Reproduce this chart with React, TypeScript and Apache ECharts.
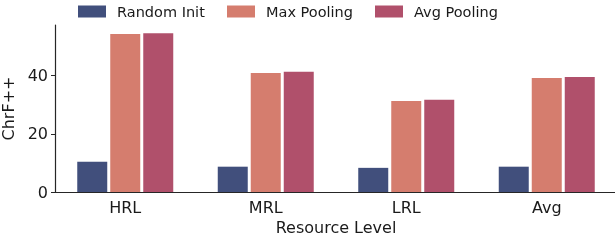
import React, { useEffect, useRef } from "react";
import * as echarts from "echarts";

const categories = ["HRL", "MRL", "LRL", "Avg"];
const seriesNames = ["Random Init", "Max Pooling", "Avg Pooling"];
const randomInit = [10.4, 8.7, 8.3, 8.7];
const maxPooling = [54.3, 40.9, 31.3, 39.2];
const avgPooling = [54.6, 41.3, 31.7, 39.5];
const yTicks = [0, 20, 40];
const colors = ["#414f7c", "#d57d6e", "#b0506b"];

const FONT = "DejaVu Sans";

export default function App() {
  const ref = useRef<HTMLDivElement>(null);
  useEffect(() => {
    if (!ref.current) return;
    const chart = echarts.init(ref.current, undefined, { renderer: "svg" });
    const values = [randomInit, maxPooling, avgPooling];
    const legendLefts = [78, 227, 375];
    chart.setOption({
      animation: false,
      textStyle: { fontFamily: FONT },
      legend: seriesNames.map((n, i) => ({
        data: [n],
        left: legendLefts[i],
        top: 4,
        padding: 0,
        itemWidth: 28,
        itemHeight: 12,
        itemGap: 0,
        icon: "rect",
        textStyle: {
          fontFamily: FONT,
          fontSize: 14.5,
          color: "#1a1a1a",
          padding: [0, 0, 0, 6],
        },
      })),
      grid: { left: 55, right: -2, top: 25, bottom: 48, outerBoundsMode: "none", containLabel: false },
      xAxis: {
        type: "category",
        data: categories,
        name: "Resource Level",
        nameLocation: "middle",
        nameGap: 27,
        nameTextStyle: { fontFamily: FONT, fontSize: 16, color: "#1a1a1a" },
        axisLine: { lineStyle: { color: "#262626", width: 1.2 } },
        axisTick: { alignWithLabel: true, length: 4, lineStyle: { color: "#262626" } },
        axisLabel: { fontFamily: FONT, fontSize: 16, color: "#1a1a1a", margin: 7 },
      },
      yAxis: {
        type: "value",
        min: 0,
        max: 57.4,
        interval: 20,
        name: "ChrF++",
        nameLocation: "middle",
        nameGap: 39,
        nameRotate: 90,
        nameTextStyle: { fontFamily: FONT, fontSize: 16, color: "#1a1a1a" },
        splitLine: { show: false },
        axisLine: { show: true, lineStyle: { color: "#262626", width: 1.2 } },
        axisTick: { show: true, length: 4, customValues: yTicks, lineStyle: { color: "#262626" } },
        axisLabel: { fontFamily: FONT, fontSize: 16, color: "#1a1a1a", margin: 7, customValues: yTicks },
      },
      series: seriesNames.map((n, i) => ({
        name: n,
        type: "bar",
        data: values[i],
        barWidth: 30,
        barGap: "10%",
        itemStyle: { color: colors[i] },
      })),
    });
    return () => chart.dispose();
  }, []);
  return (
    <div
      ref={ref}
      style={{ position: "fixed", left: 0, top: 0, width: 615, height: 240 }}
    />
  );
}
